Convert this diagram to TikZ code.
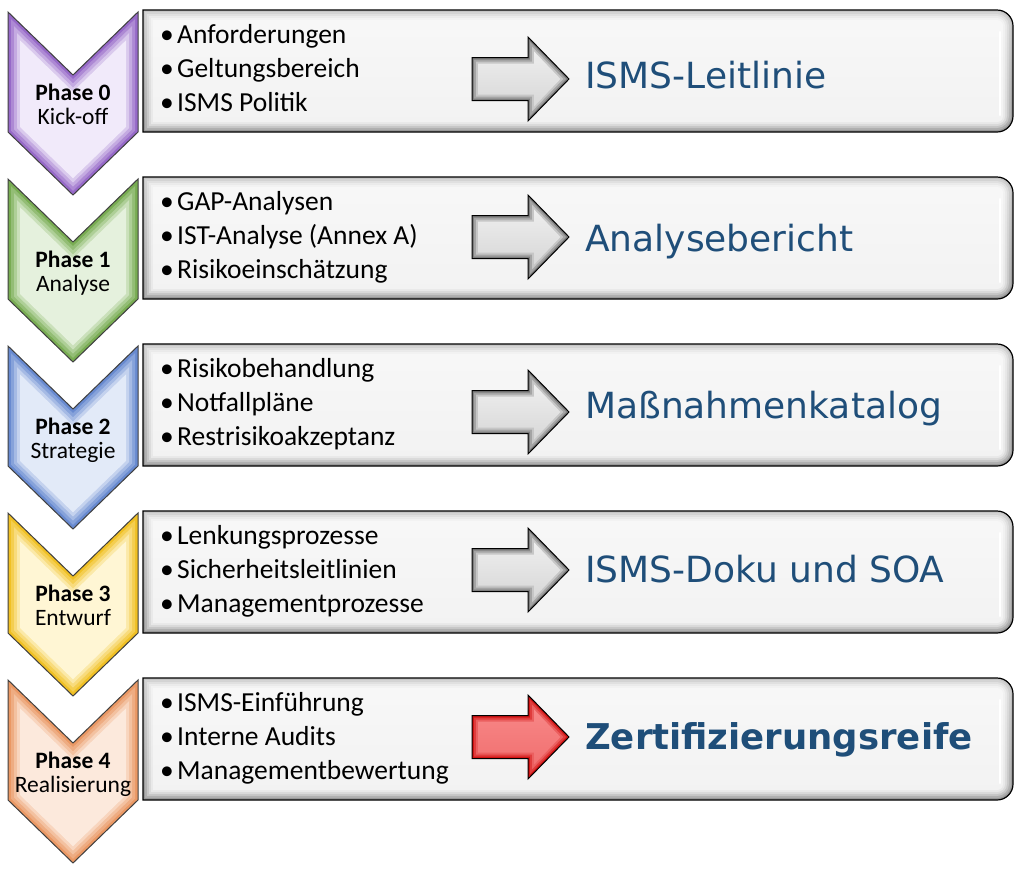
\documentclass[tikz,border=0pt]{standalone}
\usepackage{fontspec}
\setmainfont{Carlito}
\newfontfamily\titlefont{DejaVu Sans}

\definecolor{titleblue}{RGB}{31,78,121}
\definecolor{purpledark}{RGB}{150,105,200}
\definecolor{purplelight}{RGB}{241,234,250}
\definecolor{greendark}{RGB}{120,172,82}
\definecolor{greenlight}{RGB}{229,241,221}
\definecolor{bluedark}{RGB}{104,138,208}
\definecolor{bluelight}{RGB}{226,234,248}
\definecolor{yellowdark}{RGB}{240,192,36}
\definecolor{yellowlight}{RGB}{255,246,212}
\definecolor{orangedark}{RGB}{234,152,100}
\definecolor{orangelight}{RGB}{252,233,220}
\definecolor{greydark}{RGB}{125,125,125}
\definecolor{greylight}{RGB}{238,238,238}
\definecolor{reddark}{RGB}{210,20,20}
\definecolor{redlight}{RGB}{248,135,135}

% chevron, box and block arrow outlines, shrunk inwards by #1
\newcommand{\chevpath}[2]{({8+#1},{#2+2.36*#1}) -- (73,{#2+63+1.39*#1}) -- ({138-#1},{#2+2.36*#1}) -- ({138-#1},{#2+120-0.42*#1}) -- (73,{#2+183-1.39*#1}) -- ({8+#1},{#2+120-0.42*#1}) -- cycle}
\newcommand{\boxpath}[2]{({143+#1},{#2+#1}) -- (997,{#2+#1}) arc[start angle=-90,end angle=0,radius={16-#1}] -- ({1013-#1},{#2+106}) arc[start angle=0,end angle=90,radius={16-#1}] -- ({143+#1},{#2+122-#1}) -- cycle}
\newcommand{\arrpath}[2]{({472+#1},{#2-21.5+#1}) -- ({528+#1},{#2-21.5+#1}) -- ({528+#1},{#2-42+2.4*#1}) -- ({569-1.43*#1},#2) -- ({528+#1},{#2+42-2.4*#1}) -- ({528+#1},{#2+21.5-#1}) -- ({472+#1},{#2+21.5-#1}) -- cycle}

\begin{document}
\begin{tikzpicture}[x=1pt,y=-1pt,
	bullettext/.style={anchor=base west,inner sep=0pt,font=\fontsize{27.5}{33}\selectfont},
	phasetitle/.style={anchor=base,inner sep=0pt,font=\fontsize{23.5}{25}\selectfont\bfseries},
	phasesub/.style={anchor=base,inner sep=0pt,font=\fontsize{23.5}{25}\selectfont},
	outtitle/.style={anchor=base west,inner sep=0pt,text=titleblue,font=\titlefont\fontsize{36}{40}\selectfont}]
	\useasboundingbox[fill=white] (0,0) rectangle (1021,871);

	% phase chevrons
	\foreach \n/\ty/\col in {0/12/purple,1/179/green,2/346/blue,3/513/yellow,4/680/orange}{
		\foreach \dd/\m in {0/0,3/25,6/50,9/75,12/100}
			\fill[\col light!\m!\col dark] \chevpath{\dd}{\ty};
		\draw[black!75,line width=1pt] \chevpath{0}{\ty};
	}

	% grey boxes
	\foreach \n/\ty in {0/10,1/177,2/344,3/511,4/678}{
		\foreach \dd/\t/\b in {0/22/42,2/17/32,4/12/23,6/8/15,8/5/9,10/3/5}
			\shade[top color=black!\t,bottom color=black!\b] \boxpath{\dd}{\ty};
		\draw[white,line width=2.5pt,line cap=round] (1000,{\ty+22}) -- (1000,{\ty+105});
		\draw[black,line width=1.2pt] \boxpath{0}{\ty};
	}

	% block arrows
	\foreach \n/\tip/\col in {0/79/grey,1/237/grey,2/412/grey,3/570/grey,4/737/red}{
		\foreach \dd/\m in {0/0,2/35,4/65}
			\fill[\col light!\m!\col dark] \arrpath{\dd}{\tip};
		\shade[top color=\col light,middle color=white!60!\col light,bottom color=\col light!80!\col dark] \arrpath{6}{\tip};
		\draw[black,line width=1pt] \arrpath{0}{\tip};
	}

	% phase labels and bullet lists
	\foreach \n/\ty/\ph/\la/\lb/\lc in {
		0/10/Kick-off/Anforderungen/Geltungsbereich/ISMS Politik,
		1/177/Analyse/GAP-Analysen/IST-Analyse (Annex A)/Risikoeinschätzung,
		2/344/Strategie/Risikobehandlung/Notfallpläne/Restrisikoakzeptanz,
		3/511/Entwurf/Lenkungsprozesse/Sicherheitsleitlinien/Managementprozesse,
		4/678/Realisierung/ISMS-Einführung/Interne Audits/Managementbewertung}{
		\node[phasetitle] (p\n) at (73,{\ty+90}) {Phase \n};
		\node[phasesub] (s\n) at (73,{\ty+114}) {\ph};
		\node[bullettext] (b\n a) at (160,{\ty+33}) {\makebox[17pt][l]{•}\la};
		\node[bullettext] (b\n b) at (160,{\ty+67}) {\makebox[17pt][l]{•}\lb};
		\node[bullettext] (b\n c) at (160,{\ty+101}) {\makebox[17pt][l]{•}\lc};
	}

	% results
	\foreach \n/\base/\txt/\fnt in {0/88/ISMS-Leitlinie/,1/251/Analysebericht/,2/418/Maßnahmenkatalog/,
		3/582/ISMS-Doku und SOA/,4/749/Zertifizierungsreife/{\fontsize{35.5}{40}\selectfont\bfseries}}
		\node[outtitle] (t\n) at (585,\base) {\fnt\txt};
\end{tikzpicture}
\end{document}
